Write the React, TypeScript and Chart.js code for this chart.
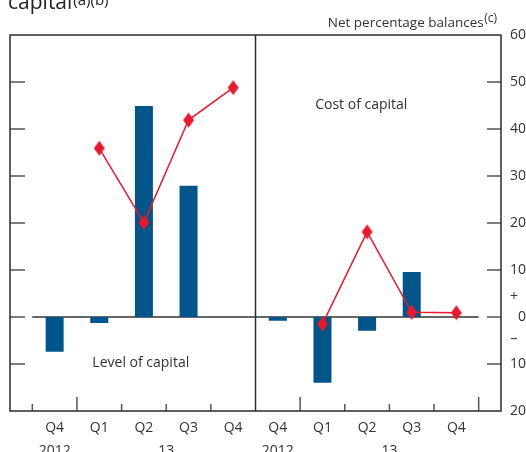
import React, { useEffect, useRef } from 'react';
import { Chart, registerables } from 'chart.js';

Chart.register(...registerables);

// ---- data ----
const quarters = ['Q4', 'Q1', 'Q2', 'Q3', 'Q4'];
const years = ['2012', '13'];
const yTickValues = [60, 50, 40, 30, 20, 10, 0, -10, -20];

const levelBars = [-7.4, -1.3, 44.9, 27.9, null];
const levelLine = [null, 35.9, 20.1, 41.9, 48.8];
const costBars = [-0.8, -14.0, -2.9, 9.6, null];
const costLine = [null, -1.5, 18.1, 1.0, 0.9];

const panelTitles = ['Level of capital', 'Cost of capital'];
const chartTitle = 'capital';
const chartTitleNotes = '(a)(b)';
const unitsLabel = 'Net percentage balances';
const unitsNote = '(c)';

// ---- style ----
const FONT = '"Open Sans", sans-serif';
const BLUE = '#00558b';
const RED = '#e8192c';
const INK = '#333333';
const FRAME = '#2b2b2b';

function makeDiamond(): HTMLCanvasElement {
  const c = document.createElement('canvas');
  c.width = 13;
  c.height = 17;
  const g = c.getContext('2d')!;
  g.fillStyle = RED;
  g.beginPath();
  g.moveTo(6.5, 1);
  g.lineTo(12, 8.5);
  g.lineTo(6.5, 16);
  g.lineTo(1, 8.5);
  g.closePath();
  g.fill();
  return c;
}

const toXY = (arr: (number | null)[]) => arr.map((v, i) => ({ x: i, y: v }));

const decor = {
  id: 'decor',
  beforeDatasetsDraw(chart: any) {
    const { ctx, scales } = chart;
    const xL = scales.xL, xR = scales.xR, y = scales.y;
    const y0 = y.getPixelForValue(0);
    ctx.save();
    ctx.strokeStyle = INK;
    ctx.lineWidth = 1.5;
    ctx.beginPath();
    ctx.moveTo(xL.getPixelForValue(-0.5), y0);
    ctx.lineTo(xR.getPixelForValue(quarters.length - 0.5), y0);
    ctx.stroke();
    ctx.restore();
  },
  afterDraw(chart: any) {
    const { ctx, scales, chartArea } = chart;
    const xL = scales.xL, xR = scales.xR, y = scales.y;
    const { left, right, top, bottom } = chartArea;
    ctx.save();

    // y tick marks (inward, both outer edges)
    ctx.strokeStyle = '#555';
    ctx.lineWidth = 1.5;
    yTickValues.forEach((v) => {
      if (v === y.min || v === y.max) return;
      const py = y.getPixelForValue(v);
      ctx.beginPath();
      ctx.moveTo(left, py);
      ctx.lineTo(left + 15, py);
      ctx.moveTo(right - 14, py);
      ctx.lineTo(right, py);
      ctx.stroke();
    });

    // x tick marks at category boundaries; tall after Q4 (year boundary)
    [xL, xR].forEach((sx: any) => {
      for (let i = -1; i < quarters.length; i++) {
        const b = i + 0.5;
        if (b <= sx.min || b >= sx.max) continue;
        const px = sx.getPixelForValue(b);
        const tall = quarters[i] === 'Q4';
        ctx.beginPath();
        ctx.moveTo(px, bottom);
        ctx.lineTo(px, bottom - (tall ? 14 : 7));
        ctx.stroke();
      }
    });

    // frame + divider
    ctx.strokeStyle = FRAME;
    ctx.lineWidth = 1.5;
    ctx.strokeRect(left, top, right - left, bottom - top);
    ctx.beginPath();
    ctx.moveTo(xL.right, top);
    ctx.lineTo(xL.right, bottom);
    ctx.stroke();

    // year labels
    ctx.fillStyle = INK;
    ctx.font = `14px ${FONT}`;
    ctx.textAlign = 'center';
    ctx.textBaseline = 'alphabetic';
    [xL, xR].forEach((sx: any) => {
      ctx.fillText(years[0], sx.getPixelForValue(0), 455);
      ctx.fillText(years[1], sx.getPixelForValue((1 + quarters.length - 1) / 2), 455);
    });

    // panel titles
    ctx.textBaseline = 'middle';
    ctx.fillText(panelTitles[0], xL.getPixelForValue(1.93), y.getPixelForValue(-9.7));
    ctx.fillText(panelTitles[1], xR.getPixelForValue(1.87), y.getPixelForValue(45.1));

    // + / - signs on right axis
    ctx.fillText('+', 514, y.getPixelForValue(4.3));
    ctx.fillText('\u2013', 514, y.getPixelForValue(-4.6));

    // units label, right-aligned above the frame
    ctx.textBaseline = 'alphabetic';
    ctx.textAlign = 'right';
    ctx.font = `12px ${FONT}`;
    const noteW = ctx.measureText(unitsNote).width;
    ctx.fillText(unitsNote, right - 4, 22);
    ctx.font = `13.5px ${FONT}`;
    ctx.fillText(unitsLabel, right - 4 - noteW - 0.5, 27);

    // chart title (cut off at the top)
    ctx.textAlign = 'left';
    ctx.fillStyle = '#222';
    ctx.font = `21px ${FONT}`;
    ctx.fillText(chartTitle, 8, 9);
    const tw = ctx.measureText(chartTitle).width;
    ctx.font = `15px ${FONT}`;
    ctx.fillText(chartTitleNotes, 8 + tw + 1, 5);

    ctx.restore();
  },
};

function xScale(min: number, max: number) {
  return {
    type: 'linear' as const,
    position: 'bottom' as const,
    stack: 'bottom',
    stackWeight: 1,
    offset: false,
    min,
    max,
    grid: { display: false, offset: false },
    border: { display: false },
    afterBuildTicks: (s: any) => {
      s.ticks = quarters.map((_, i) => ({ value: i }));
    },
    afterFit: (s: any) => {
      s.height = 41;
    },
    ticks: {
      autoSkip: false,
      maxRotation: 0,
      padding: 1,
      color: INK,
      font: { family: FONT, size: 14 },
      callback: (v: any) => quarters[v] ?? '',
    },
  };
}

export default function App() {
  const ref = useRef<HTMLCanvasElement>(null);

  useEffect(() => {
    if (!ref.current) return;
    const diamond = makeDiamond();
    const lineStyle = {
      type: 'line' as const,
      borderColor: RED,
      backgroundColor: RED,
      borderWidth: 1.5,
      pointStyle: diamond,
      tension: 0,
      order: 1,
      yAxisID: 'y',
    };
    const barStyle = {
      type: 'bar' as const,
      backgroundColor: BLUE,
      grouped: false,
      maxBarThickness: 18,
      barPercentage: 0.9,
      categoryPercentage: 1,
      order: 2,
      yAxisID: 'y',
    };
    const chart = new Chart(ref.current, {
      type: 'bar',
      data: {
        datasets: [
          { ...lineStyle, label: 'Level line', xAxisID: 'xL', data: toXY(levelLine) },
          { ...barStyle, label: 'Level bars', xAxisID: 'xL', data: toXY(levelBars) },
          { ...lineStyle, label: 'Cost line', xAxisID: 'xR', data: toXY(costLine) },
          { ...barStyle, label: 'Cost bars', xAxisID: 'xR', data: toXY(costBars) },
        ] as any,
      },
      options: {
        responsive: false,
        animation: false,
        layout: { padding: { top: 35, left: 10, right: 0, bottom: 0 } },
        plugins: { legend: { display: false }, tooltip: { enabled: false } },
        scales: {
          xL: xScale(-1, quarters.length - 0.5),
          xR: xScale(-0.5, quarters.length),
          y: {
            type: 'linear',
            position: 'right',
            min: -20,
            max: 60,
            grid: { display: false },
            border: { display: false },
            afterBuildTicks: (s: any) => {
              s.ticks = yTickValues.map((v) => ({ value: v }));
            },
            afterFit: (s: any) => {
              s.width = 25;
            },
            ticks: {
              crossAlign: 'far',
              padding: 9,
              color: INK,
              font: { family: FONT, size: 14 },
              callback: (v: any) => String(Math.abs(v)),
            },
          },
        } as any,
      },
      plugins: [decor],
    });
    return () => chart.destroy();
  }, []);

  return (
    <div style={{ position: 'fixed', left: 0, top: 0, width: 526, height: 452, background: '#fff' }}>
      <canvas ref={ref} width={526} height={452} />
    </div>
  );
}
